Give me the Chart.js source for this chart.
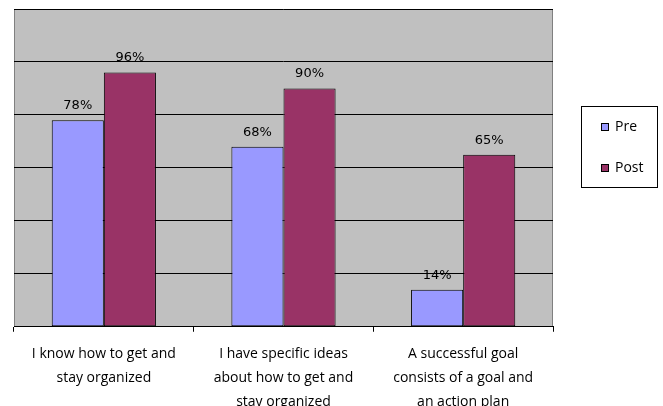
<!DOCTYPE html>
<html>
<head>
<meta charset="utf-8">
<script src="https://cdn.jsdelivr.net/npm/chart.js@4.4.0/dist/chart.umd.min.js"></script>
<style>
  html, body { margin: 0; padding: 0; background: #fff; }
  #wrap { width: 663px; height: 406px; }
</style>
</head>
<body>
<div id="wrap"><canvas id="myChart"></canvas></div>
<script>
let categories = [
  ['I know how to get and', 'stay organized'],
  ['I have specific ideas', 'about how to get and', 'stay organized'],
  ['A successful goal', 'consists of a goal and', 'an action plan']
];
let preValues = [78, 68, 14];
let postValues = [96, 90, 65];
let seriesNames = ['Pre', 'Post'];

let canvasEl = document.getElementById("myChart").getContext('2d');

// gray plot background + frame
let plotBg = {
  id: 'plotBg',
  beforeDraw: function(chart) {
    let a = chart.chartArea;
    let c = chart.ctx;
    c.save();
    c.fillStyle = '#c0c0c0';
    c.fillRect(a.left, a.top, a.right - a.left, a.bottom - a.top);
    c.strokeStyle = '#808080';
    c.lineWidth = 1;
    c.beginPath();
    c.moveTo(a.left + 0.5, a.bottom);
    c.lineTo(a.left + 0.5, a.top + 0.5);
    c.lineTo(a.right - 0.5, a.top + 0.5);
    c.lineTo(a.right - 0.5, a.bottom);
    c.stroke();
    c.restore();
  }
};

// percentage labels above bars
let valueLabels = {
  id: 'valueLabels',
  afterDatasetsDraw: function(chart) {
    let c = chart.ctx;
    c.save();
    c.font = '13px "DejaVu Sans"';
    c.fillStyle = '#000';
    c.textAlign = 'center';
    c.textBaseline = 'bottom';
    chart.data.datasets.forEach(function(ds, i) {
      chart.getDatasetMeta(i).data.forEach(function(bar, j) {
        c.fillText(ds.data[j] + '%', bar.x, bar.y - 8);
      });
    });
    c.restore();
  }
};

// legend box on the right
let legendBox = {
  id: 'legendBox',
  afterDraw: function(chart) {
    let c = chart.ctx;
    c.save();
    c.fillStyle = '#fff';
    c.fillRect(581, 106, 77, 82);
    c.strokeStyle = '#000';
    c.lineWidth = 1;
    c.strokeRect(581.5, 106.5, 76, 81);
    c.font = '14px "Open Sans"';
    c.textBaseline = 'middle';
    chart.data.datasets.forEach(function(ds, i) {
      let y = 127 + i * 41;
      c.fillStyle = ds.backgroundColor;
      c.fillRect(601, y - 4, 8, 8);
      c.strokeStyle = '#000';
      c.strokeRect(601.5, y - 3.5, 7, 7);
      c.fillStyle = '#000';
      c.fillText(ds.label, 615, y);
    });
    c.restore();
  }
};

var myChart = new Chart(canvasEl, {
  type: 'bar',
  data: {
    labels: categories,
    datasets: [{
      label: seriesNames[0],
      data: preValues,
      backgroundColor: '#9999ff',
      borderColor: '#000',
      borderWidth: 1,
      borderSkipped: false
    },
    {
      label: seriesNames[1],
      data: postValues,
      backgroundColor: '#993366',
      borderColor: '#000',
      borderWidth: 1,
      borderSkipped: false
    }]
  },
  options: {
    maintainAspectRatio: false,
    responsive: true,
    animation: false,
    devicePixelRatio: 1,
    layout: { padding: { left: 14, top: 9, right: 110, bottom: -18 } },
    categoryPercentage: 0.58,
    barPercentage: 1,
    plugins: {
      legend: { display: false },
      tooltip: { enabled: false }
    },
    scales: {
      x: {
        offset: true,
        grid: {
          offset: true,
          drawOnChartArea: false,
          drawTicks: true,
          tickLength: 5,
          color: '#000'
        },
        border: { color: '#000' },
        ticks: {
          color: '#000',
          font: { family: 'Open Sans', size: 14, lineHeight: 1.72 },
          padding: 10,
          maxRotation: 0,
          autoSkip: false
        }
      },
      y: {
        min: 0,
        max: 120,
        ticks: { display: false, stepSize: 20 },
        grid: { color: '#000', drawTicks: false, tickLength: 0 },
        border: { display: false }
      }
    }
  },
  plugins: [plotBg, valueLabels, legendBox]
});
</script>
</body>
</html>
